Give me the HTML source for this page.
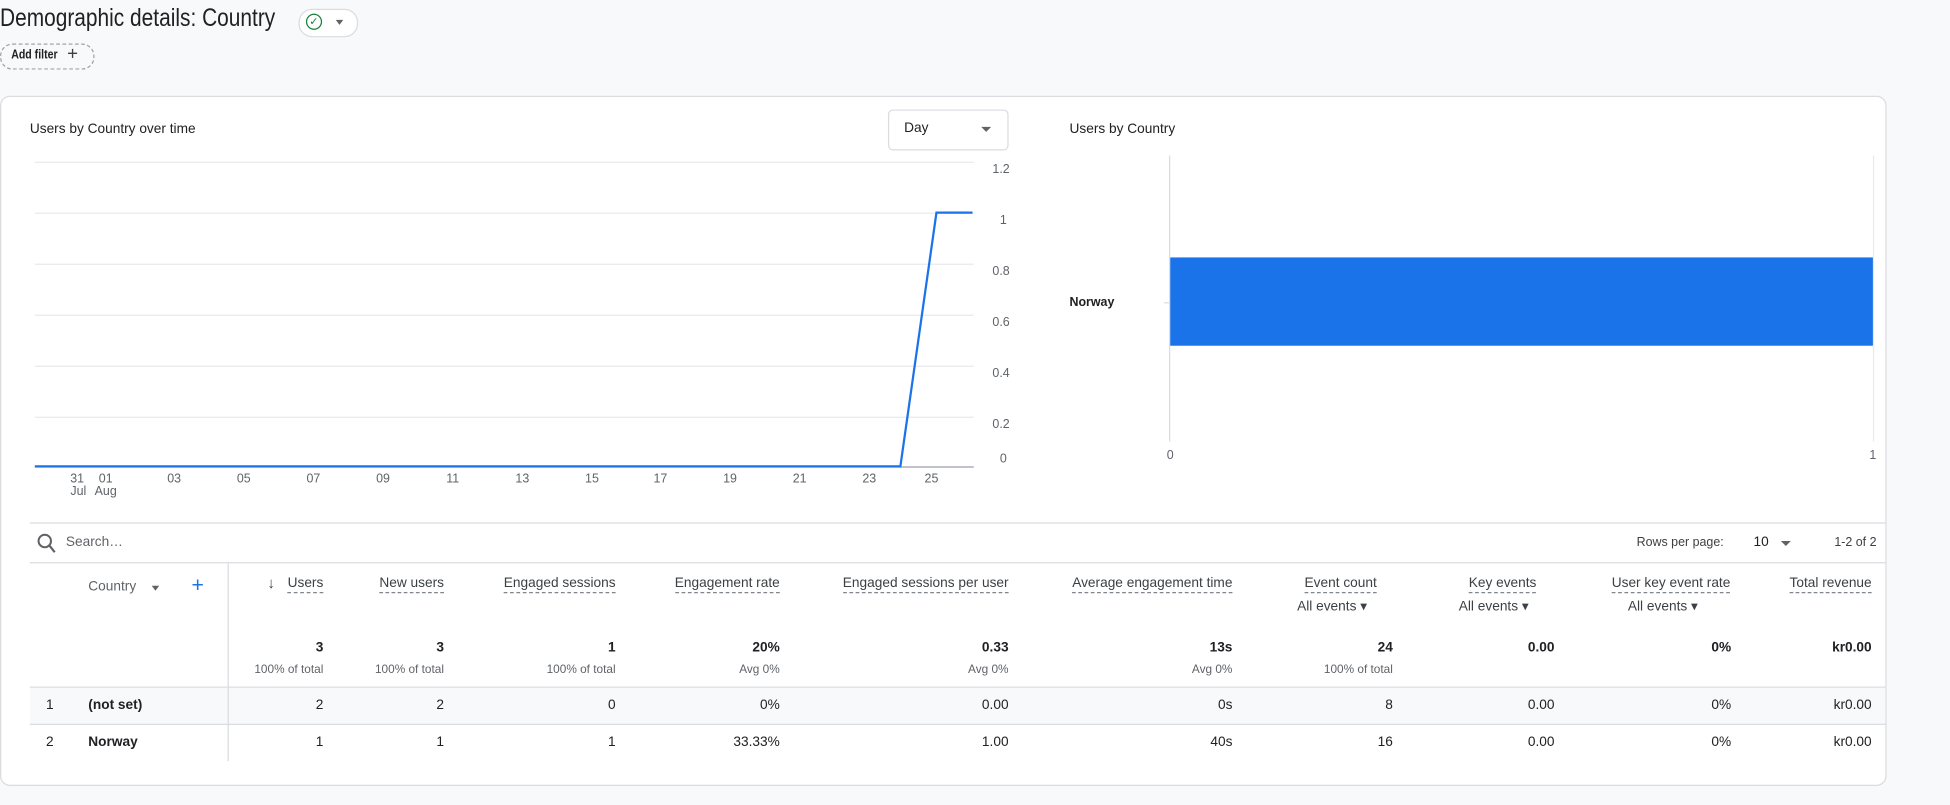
<!DOCTYPE html>
<html><head><meta charset="utf-8"><style>
html,body{margin:0;padding:0;width:1950px;height:805px;overflow:hidden;background:#f8f9fa;font-family:"Liberation Sans",Arial,sans-serif;color:#202124}
#w{position:absolute;left:0;top:0;width:1568px;height:647px;transform:scale(1.24362);transform-origin:0 0}
.a{position:absolute;white-space:nowrap}
.r{text-align:right}
.s{font-size:11px}
.h{font-size:11px;color:#3c4043;border-bottom:1px dashed #80868b;padding-bottom:1px}
.g{font-size:9.5px;color:#5f6368}
.v{font-size:11px;font-weight:bold}
</style></head><body><div id="w">
<div class="a" style="left:0;top:4px;font-size:20px;color:#202124;transform:scaleX(0.84);transform-origin:0 0">Demographic details: Country</div>
<div class="a" style="left:240px;top:7px;width:46px;height:21px;border:1px solid #dadce0;border-radius:11px;background:#fff"></div>
<div class="a" style="left:246px;top:11px;width:11px;height:11px;border:1.5px solid #188038;border-radius:50%;font-size:9px;line-height:11px;text-align:center;color:#188038">✓</div>
<div class="a" style="left:270px;top:16px;width:0;height:0;border-left:3px solid transparent;border-right:3px solid transparent;border-top:4px solid #5f6368"></div>
<div class="a" style="left:0;top:35px;width:74px;height:19px;border:1px dashed #9aa0a6;border-radius:10px"></div>
<div class="a" style="left:9px;top:39px;font-size:10px;font-weight:bold;transform:scaleX(0.85);transform-origin:0 0">Add filter</div>
<div class="a" style="left:54px;top:35px;font-size:15px;color:#3c4043">+</div>
<div class="a" style="left:0;top:77px;width:1515px;height:553px;background:#fff;border:1px solid #dadce0;border-radius:8px"></div>
<div class="a s" style="left:24px;top:98px">Users by Country over time</div>
<div class="a" style="left:714px;top:88px;width:95px;height:31px;border:1px solid #dadce0;border-radius:4px"></div>
<div class="a s" style="left:727px;top:97px">Day</div>
<div class="a" style="left:789px;top:102px;border-left:4px solid transparent;border-right:4px solid transparent;border-top:4px solid #5f6368"></div>
<div class="a s" style="left:860px;top:98px">Users by Country</div>
<svg class="a" style="left:0;top:0" width="1568" height="647" font-family="Liberation Sans,Arial,sans-serif" font-size="10" fill="#5f6368">
<g stroke="#e8eaed" stroke-width="1">
<line x1="28" y1="130.5" x2="783" y2="130.5"/><line x1="28" y1="171.5" x2="783" y2="171.5"/><line x1="28" y1="212.5" x2="783" y2="212.5"/><line x1="28" y1="253.5" x2="783" y2="253.5"/><line x1="28" y1="294.5" x2="783" y2="294.5"/><line x1="28" y1="335.5" x2="783" y2="335.5"/>
<line x1="1506.5" y1="125" x2="1506.5" y2="355"/>
</g>
<line x1="28" y1="375.5" x2="783" y2="375.5" stroke="#9aa0a6"/>
<polyline points="28,375 724,375 753,171 782,171" fill="none" stroke="#1a73e8" stroke-width="1.8"/>
<g text-anchor="start"><text x="798" y="139">1.2</text><text x="804" y="180">1</text><text x="798" y="221">0.8</text><text x="798" y="262">0.6</text><text x="798" y="303">0.4</text><text x="798" y="344">0.2</text><text x="804" y="372">0</text></g>
<g text-anchor="middle"><text x="62" y="388">31</text><text x="63" y="398">Jul</text><text x="85" y="388">01</text><text x="85" y="398">Aug</text>
<text x="140" y="388">03</text><text x="196" y="388">05</text><text x="252" y="388">07</text><text x="308" y="388">09</text><text x="364" y="388">11</text><text x="420" y="388">13</text><text x="476" y="388">15</text><text x="531" y="388">17</text><text x="587" y="388">19</text><text x="643" y="388">21</text><text x="699" y="388">23</text><text x="749" y="388">25</text>
<text x="941" y="369">0</text><text x="1506" y="369">1</text></g>
<line x1="940.5" y1="125" x2="940.5" y2="355" stroke="#dadce0"/>
<line x1="936" y1="243.5" x2="940" y2="243.5" stroke="#dadce0"/>
<rect x="941" y="207" width="565" height="71" fill="#1a73e8"/>
<text x="860" y="246" fill="#202124" font-size="10" font-weight="bold">Norway</text>
<line x1="24" y1="420.5" x2="1516" y2="420.5" stroke="#dadce0"/>
<line x1="24" y1="452.5" x2="1516" y2="452.5" stroke="#dadce0"/>
<rect x="24" y="553" width="1492" height="29" fill="#f8f9fa"/>
<line x1="24" y1="552.5" x2="1516" y2="552.5" stroke="#dadce0"/>
<line x1="24" y1="582.5" x2="1516" y2="582.5" stroke="#dadce0"/>
<line x1="183.5" y1="453" x2="183.5" y2="612" stroke="#dadce0"/>
<circle cx="36" cy="435" r="5" fill="none" stroke="#5f6368" stroke-width="1.6"/><line x1="40" y1="439" x2="44" y2="444" stroke="#5f6368" stroke-width="1.8"/>
</svg>
<div class="a s" style="left:53px;top:430px;color:#5f6368">Search…</div>
<div class="a" style="left:1316px;top:431px;font-size:10px;color:#3c4043">Rows per page:</div>
<div class="a s" style="left:1410px;top:430px">10</div>
<div class="a" style="left:1432px;top:435px;border-left:4px solid transparent;border-right:4px solid transparent;border-top:4px solid #5f6368"></div>
<div class="a" style="left:1475px;top:431px;font-size:10px;color:#3c4043">1-2 of 2</div>
<div class="a s" style="left:71px;top:466px;color:#5f6368">Country</div>
<div class="a" style="left:122px;top:471px;border-left:3px solid transparent;border-right:3px solid transparent;border-top:4px solid #5f6368"></div>
<div class="a" style="left:154px;top:461px;font-size:17px;color:#1a73e8">+</div>
<div class="a" style="left:215px;top:462px;font-size:12px;color:#3c4043">↓</div>
<div class="a h" style="right:1308px;top:463px">Users</div>
<div class="a h" style="right:1211px;top:463px">New users</div>
<div class="a h" style="right:1073px;top:463px">Engaged sessions</div>
<div class="a h" style="right:941px;top:463px">Engagement rate</div>
<div class="a h" style="right:757px;top:463px">Engaged sessions per user</div>
<div class="a h" style="right:577px;top:463px">Average engagement time</div>
<div class="a h" style="left:1049px;top:463px">Event count</div>
<div class="a h" style="left:1181px;top:463px">Key events</div>
<div class="a h" style="left:1296px;top:463px">User key event rate</div>
<div class="a h" style="right:63px;top:463px">Total revenue</div>
<div class="a s" style="left:1043px;top:481px;color:#3c4043">All events ▾</div>
<div class="a s" style="left:1173px;top:481px;color:#3c4043">All events ▾</div>
<div class="a s" style="left:1309px;top:481px;color:#3c4043">All events ▾</div>
<div class="a v" style="right:1308px;top:515px">3</div><div class="a g" style="right:1308px;top:533px">100% of total</div>
<div class="a v" style="right:1211px;top:515px">3</div><div class="a g" style="right:1211px;top:533px">100% of total</div>
<div class="a v" style="right:1073px;top:515px">1</div><div class="a g" style="right:1073px;top:533px">100% of total</div>
<div class="a v" style="right:941px;top:515px">20%</div><div class="a g" style="right:941px;top:533px">Avg 0%</div>
<div class="a v" style="right:757px;top:515px">0.33</div><div class="a g" style="right:757px;top:533px">Avg 0%</div>
<div class="a v" style="right:577px;top:515px">13s</div><div class="a g" style="right:577px;top:533px">Avg 0%</div>
<div class="a v" style="right:448px;top:515px">24</div><div class="a g" style="right:448px;top:533px">100% of total</div>
<div class="a v" style="right:318px;top:515px">0.00</div>
<div class="a v" style="right:176px;top:515px">0%</div>
<div class="a v" style="right:63px;top:515px">kr0.00</div>
<div class="a s" style="left:37px;top:561px">1</div><div class="a s" style="left:71px;top:561px;font-weight:bold">(not set)</div>
<div class="a s" style="left:37px;top:591px">2</div><div class="a s" style="left:71px;top:591px;font-weight:bold">Norway</div>
<div class="a s" style="right:1308px;top:561px">2</div><div class="a s" style="right:1211px;top:561px">2</div><div class="a s" style="right:1073px;top:561px">0</div><div class="a s" style="right:941px;top:561px">0%</div><div class="a s" style="right:757px;top:561px">0.00</div><div class="a s" style="right:577px;top:561px">0s</div><div class="a s" style="right:448px;top:561px">8</div><div class="a s" style="right:318px;top:561px">0.00</div><div class="a s" style="right:176px;top:561px">0%</div><div class="a s" style="right:63px;top:561px">kr0.00</div>
<div class="a s" style="right:1308px;top:591px">1</div><div class="a s" style="right:1211px;top:591px">1</div><div class="a s" style="right:1073px;top:591px">1</div><div class="a s" style="right:941px;top:591px">33.33%</div><div class="a s" style="right:757px;top:591px">1.00</div><div class="a s" style="right:577px;top:591px">40s</div><div class="a s" style="right:448px;top:591px">16</div><div class="a s" style="right:318px;top:591px">0.00</div><div class="a s" style="right:176px;top:591px">0%</div><div class="a s" style="right:63px;top:591px">kr0.00</div>
</div></body></html>
